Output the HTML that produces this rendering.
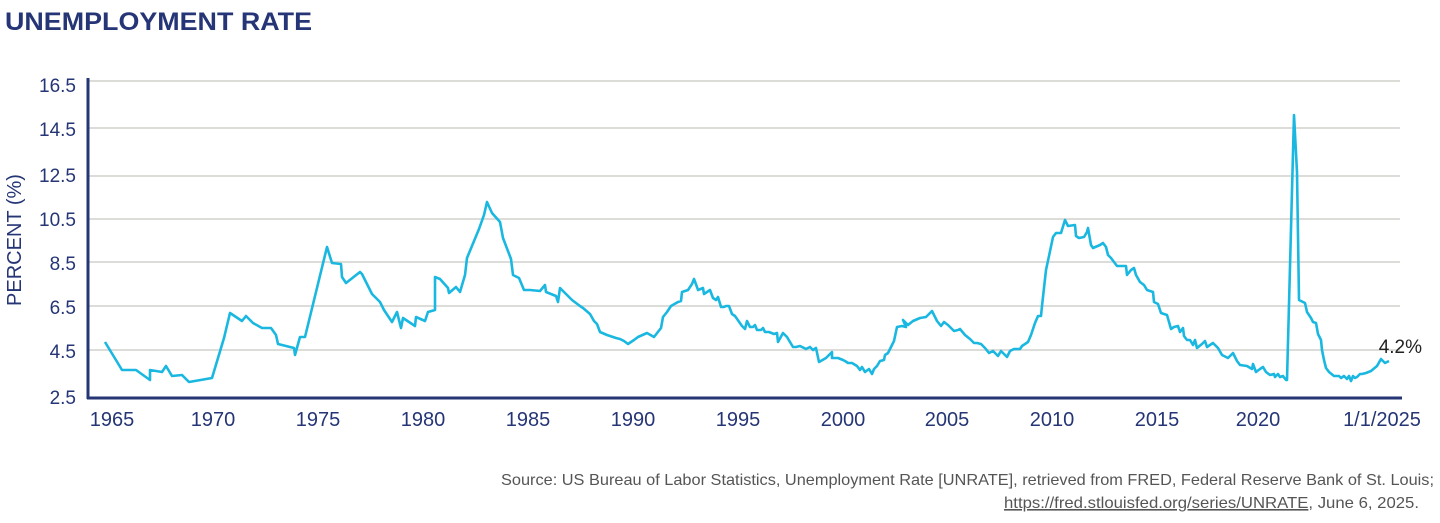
<!DOCTYPE html>
<html><head><meta charset="utf-8"><style>
html,body{margin:0;padding:0;background:#fff;}
body{width:1440px;height:518px;overflow:hidden;font-family:"Liberation Sans",sans-serif;}
</style></head><body>
<svg width="1440" height="518" xmlns="http://www.w3.org/2000/svg" font-family="Liberation Sans, sans-serif">
<text x="5" y="30" font-size="25" font-weight="bold" fill="#253575" textLength="307" lengthAdjust="spacingAndGlyphs">UNEMPLOYMENT RATE</text>
<g stroke="#dcdcd8" stroke-width="2">
<line x1="88" x2="1400" y1="81" y2="81"/><line x1="88" x2="1400" y1="128" y2="128"/>
<line x1="88" x2="1400" y1="176" y2="176"/><line x1="88" x2="1400" y1="219" y2="219"/>
<line x1="88" x2="1400" y1="262" y2="262"/><line x1="88" x2="1400" y1="306" y2="306"/>
<line x1="88" x2="1400" y1="350" y2="350"/>
</g>
<g font-size="19" fill="#253575" text-anchor="end">
<text x="76" y="92">16.5</text><text x="76" y="136">14.5</text><text x="76" y="182">12.5</text>
<text x="76" y="226">10.5</text><text x="76" y="270">8.5</text><text x="76" y="314">6.5</text>
<text x="76" y="358">4.5</text><text x="76" y="404">2.5</text>
</g>
<text transform="translate(21,240) rotate(-90)" font-size="20" fill="#253575" text-anchor="middle">PERCENT (%)</text>
<g font-size="20" fill="#253575" text-anchor="middle">
<text x="112" y="426">1965</text><text x="213" y="426">1970</text><text x="318" y="426">1975</text>
<text x="423" y="426">1980</text><text x="528" y="426">1985</text><text x="633" y="426">1990</text>
<text x="738" y="426">1995</text><text x="843" y="426">2000</text><text x="947" y="426">2005</text>
<text x="1052" y="426">2010</text><text x="1157" y="426">2015</text><text x="1258" y="426">2020</text>
<text x="1382" y="426">1/1/2025</text>
</g>
<polyline fill="none" stroke="#1ab8e0" stroke-width="2.6" stroke-linejoin="round" points="105,342 122,370 136,370 150,380 150,370 162,372 166,366 172,376 182,375 189,382 212,378 224,338 230,313 242,321 246,316 253,323 262,328 271,328 276,335 278,344 294,348 295,355 300,337 305,337 327,247 332,263 341,264 342,277 346,283 360,272 362,274 364,278 372,294 380,302 384,310 392,322 397,312 401,328 403,318 415,326 416,317 425,321 428,312 435,310 435,277 440,279 448,288 449,293 456,287 460,292 465,275 467,258 479,229 484,215 487,202 492,213 500,222 503,238 511,259 513,275 519,278 524,290 530,290 540,291 545,285 546,292 556,296 558,302 560,288 568,296 572,300 580,306 583,308 590,314 594,321 597,324 600,332 607,335 616,338 620,339 624,341 628,344 634,340 638,337 647,333 654,337 661,328 663,317 667,312 671,306 678,302 681,301 682,292 688,290 692,284 694,279 697,287 698,290 703,288 704,294 710,290 713,298 716,300 718,297 721,307 724,307 726,306 729,306 732,314 735,316 742,326 745,329 747,321 750,327 753,327 755,325 757,330 761,330 763,328 765,332 769,332 774,334 777,333 778,342 783,333 787,337 793,347 796,347 800,346 806,349 810,347 813,350 816,348 819,362 826,358 832,352 832,358 838,358 843,360 845,361 848,363 852,363 857,366 860,370 862,367 865,372 869,369 872,374 874,369 877,366 880,361 884,360 885,355 888,353 891,347 894,341 897,327 902,326 906,327 903,320 908,325 913,321 920,318 926,317 932,311 937,321 941,326 944,322 948,325 954,331 958,330 960,329 965,335 970,339 974,343 977,343 981,344 985,348 989,353 993,351 995,353 998,356 1001,351 1004,354 1007,357 1010,351 1014,349 1020,349 1022,346 1028,342 1031,335 1035,323 1038,316 1041,316 1042,306 1046,270 1049,256 1053,237 1056,233 1061,233 1065,220 1068,226 1075,225 1076,236 1079,238 1084,237 1087,232 1088,228 1091,245 1093,248 1100,245 1103,243 1106,247 1108,255 1111,258 1114,262 1117,266 1126,266 1127,275 1131,270 1134,268 1136,275 1140,282 1144,285 1147,290 1153,292 1154,302 1158,304 1161,313 1167,315 1171,329 1174,327 1178,326 1180,332 1183,328 1184,336 1187,340 1190,340 1193,345 1195,340 1197,348 1202,344 1205,341 1207,347 1213,343 1218,348 1222,355 1228,358 1233,353 1237,361 1240,365 1247,366 1252,369 1253,364 1256,372 1260,369 1263,367 1266,372 1270,375 1274,374 1275,377 1278,374 1280,377 1283,376 1286,380 1287,380 1294,115 1297,172 1299,300 1305,303 1307,312 1311,318 1313,322 1316,323 1318,334 1321,340 1322,350 1324,360 1326,368 1329,372 1334,376 1339,376 1341,378 1344,376 1347,379 1349,376 1351,381 1353,376 1355,378 1357,377 1360,374 1362,374 1366,373 1371,371 1377,366 1381,359 1385,363 1389,361"/>
<line x1="88" y1="78" x2="88" y2="399" stroke="#253575" stroke-width="3"/>
<line x1="87" y1="398" x2="1402" y2="398" stroke="#253575" stroke-width="3"/>
<text x="1422" y="353" font-size="19" fill="#222" text-anchor="end">4.2%</text>
<g font-size="16" fill="#555" text-anchor="end">
<text x="1434" y="485" textLength="933" lengthAdjust="spacingAndGlyphs">Source: US Bureau of Labor Statistics, Unemployment Rate [UNRATE], retrieved from FRED, Federal Reserve Bank of St. Louis;</text>
<text x="1419" y="508" textLength="415" lengthAdjust="spacingAndGlyphs"><tspan text-decoration="underline">https://fred.stlouisfed.org/series/UNRATE</tspan>, June 6, 2025.</text>
</g>
</svg>
</body></html>
